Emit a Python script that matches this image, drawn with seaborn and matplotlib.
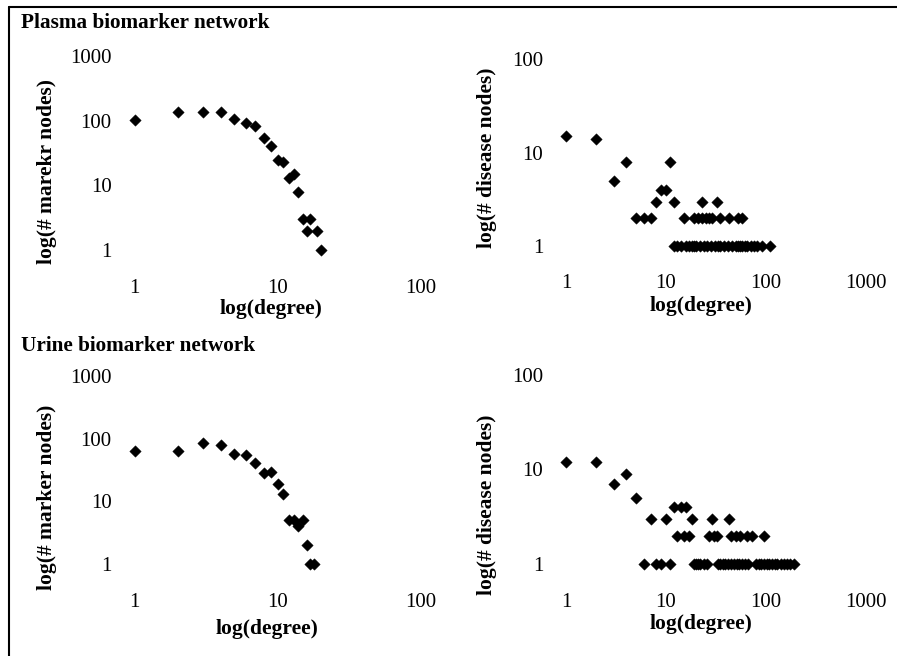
import numpy as np
import pandas as pd
import matplotlib
matplotlib.use("Agg")
import matplotlib.pyplot as plt
from matplotlib.lines import Line2D
from matplotlib.ticker import FixedLocator, FixedFormatter, NullLocator
import seaborn as sns

# ---------------- data ----------------
plasma_marker_degree = [1, 2, 3, 4, 5, 6, 7, 8, 9, 10, 11, 12, 13, 14, 15, 16, 17, 19, 20]
plasma_marker_count = [102, 136, 134, 137, 107, 93, 83, 53, 40, 25, 23, 13, 15, 8, 3, 2, 3, 2, 1]

plasma_disease_degree = ([1, 2, 3, 4, 5, 6, 7, 8, 9, 10, 11, 12, 15]
                         + [23, 32]
                         + [19, 21, 23, 25, 27, 29, 35, 43, 53, 58]
                         + [12, 13, 14, 16, 17, 18, 19, 20, 22, 24, 26, 28, 31, 33, 35,
                            38, 42, 46, 50, 52, 55, 58, 61, 65, 70, 75, 82, 92, 110])
plasma_disease_count = ([15, 14, 5, 8, 2, 2, 2, 3, 4, 4, 8, 3, 2]
                        + [3, 3]
                        + [2] * 10
                        + [1] * 29)

urine_marker_degree = [1, 2, 3, 4, 5, 6, 7, 8, 9, 10, 11, 12, 13, 14, 15, 16, 17, 18]
urine_marker_count = [64, 64, 85, 79, 58, 56, 41, 28, 30, 19, 13, 5, 5, 4, 5, 2, 1, 1]

urine_disease_degree = ([1, 2, 3, 4, 5]
                        + [7, 10, 18, 29, 43]
                        + [12, 14, 16]
                        + [13, 15, 17, 27, 30, 32, 45, 50, 55, 65, 73, 96]
                        + [6, 8, 9, 11, 19, 20, 21, 22, 24, 26, 33, 35, 37, 39, 42, 45,
                           48, 51, 54, 57, 61, 66, 80, 85, 90, 96, 102, 108, 115, 122,
                           130, 140, 150, 162, 175, 190])
urine_disease_count = ([12, 12, 7, 9, 5]
                       + [3] * 5
                       + [4] * 3
                       + [2] * 12
                       + [1] * 36)

titles = ["Plasma biomarker network", "Urine biomarker network"]
xlabel_text = "log(degree)"
ylabels = ["log(# marekr nodes)", "log(# disease nodes)",
           "log(# marker nodes)", "log(# disease nodes)"]
marker_xticks = [1, 10, 100]
disease_xticks = [1, 10, 100, 1000]
marker_yticks = [1, 10, 100, 1000]
disease_yticks = [1, 10, 100]

# ---------------- style ----------------
sns.set_theme(style="white")
plt.rcParams["font.family"] = ["Liberation Serif", "DejaVu Serif"]

TICK_FS = 15
LABEL_FS = 15.5
TITLE_FS = 15.3

W, H = 897, 656
fig = plt.figure(figsize=(W / 100, H / 100), dpi=100)

def rect(left, top, right, bottom):
    return [left / W, 1 - bottom / H, (right - left) / W, (bottom - top) / H]

panels = [
    ((134.5, 56.0, 420.5, 250.0), plasma_marker_degree, plasma_marker_count,
     marker_xticks, marker_yticks, ylabels[0], (270.7, 309.0), (46.7, 171.0), 21),
    ((566.0, 59.5, 866.0, 246.0), plasma_disease_degree, plasma_disease_count,
     disease_xticks, disease_yticks, ylabels[1], (700.8, 305.5), (487.3, 158.0), 20.5),
    ((134.5, 375.9, 420.5, 564.3), urine_marker_degree, urine_marker_count,
     marker_xticks, marker_yticks, ylabels[2], (266.7, 629.3), (46.7, 497.0), 21),
    ((566.0, 375.0, 866.0, 564.0), urine_disease_degree, urine_disease_count,
     disease_xticks, disease_yticks, ylabels[3], (700.7, 624.5), (487.3, 505.0), 21),
]

for (l, t, r, b), deg, cnt, xt, yt, ylab, xlc, ylc, xpad in panels:
    ax = fig.add_axes(rect(l, t, r, b))
    df = pd.DataFrame({"degree": deg, "count": cnt})
    sns.scatterplot(data=df, x="degree", y="count", ax=ax, marker="D", s=34,
                    color="black", edgecolor="black", linewidth=0.3, clip_on=False,
                    legend=False)
    ax.set_xscale("log")
    ax.set_yscale("log")
    ax.set_xlim(xt[0], xt[-1])
    ax.set_ylim(yt[0], yt[-1])
    ax.xaxis.set_major_locator(FixedLocator(xt))
    ax.xaxis.set_major_formatter(FixedFormatter([str(v) for v in xt]))
    ax.yaxis.set_major_locator(FixedLocator(yt))
    ax.yaxis.set_major_formatter(FixedFormatter([str(v) for v in yt]))
    ax.xaxis.set_minor_locator(NullLocator())
    ax.yaxis.set_minor_locator(NullLocator())
    ax.tick_params(axis="x", length=0, pad=xpad, labelsize=TICK_FS, colors="black")
    ax.tick_params(axis="y", length=0, pad=16.5, labelsize=TICK_FS, colors="black")
    for sp in ax.spines.values():
        sp.set_visible(False)
    ax.set_facecolor("none")
    ax.grid(False)
    ax.set_xlabel(xlabel_text, fontsize=LABEL_FS, fontweight="bold", color="black")
    ax.set_ylabel(ylab, fontsize=LABEL_FS, fontweight="bold", color="black")
    ax.xaxis.set_label_coords((xlc[0] - l) / (r - l), (b - xlc[1]) / (b - t))
    ax.xaxis.label.set_verticalalignment("center")
    ax.yaxis.set_label_coords((ylc[0] - l) / (r - l), (b - ylc[1]) / (b - t))
    ax.yaxis.label.set_verticalalignment("center")
    ax.yaxis.label.set_horizontalalignment("center")

fig.text(20.5 / W, 1 - 23.3 / H, titles[0], fontsize=TITLE_FS, fontweight="bold",
         ha="left", va="center", color="black")
fig.text(20.5 / W, 1 - 346 / H, titles[1], fontsize=TITLE_FS, fontweight="bold",
         ha="left", va="center", color="black")

# outer frame (left and top edges)
fig.add_artist(Line2D([9.3 / W, 9.3 / W], [0, 1 - 7 / H], transform=fig.transFigure,
                      color="black", linewidth=1.5))
fig.add_artist(Line2D([9.3 / W, 1], [1 - 7 / H, 1 - 7 / H], transform=fig.transFigure,
                      color="black", linewidth=1.5))

fig.savefig("out.png", dpi=100, facecolor="white")
